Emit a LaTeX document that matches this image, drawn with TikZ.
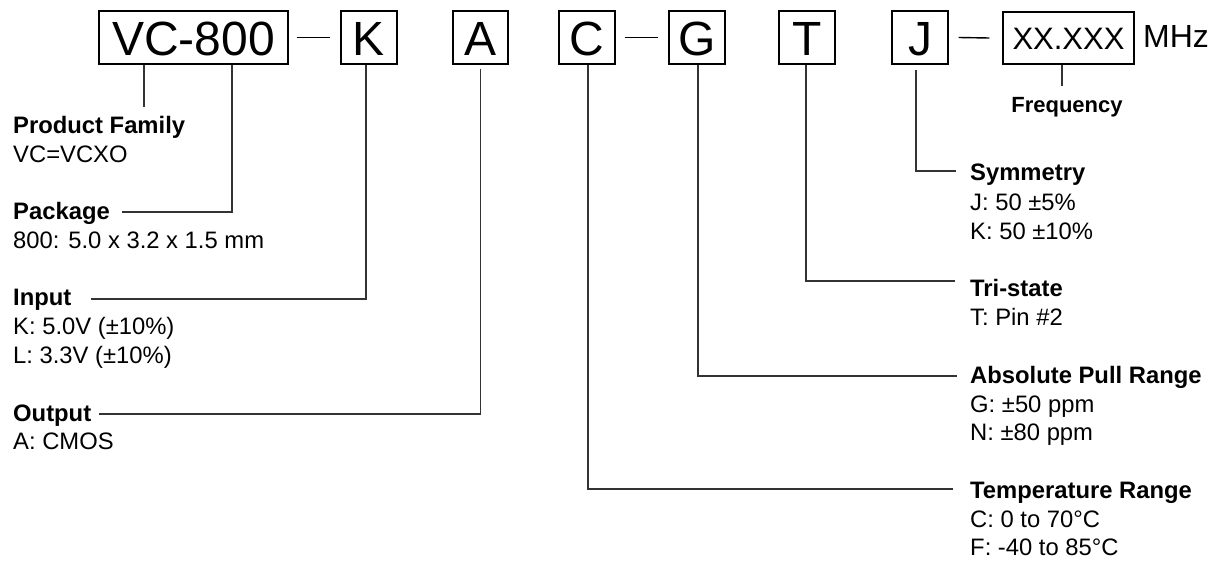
\documentclass[tikz,border=0pt]{standalone}
\usepackage{fontspec}
\setmainfont{Liberation Sans}
\begin{document}
\begin{tikzpicture}[x=1pt,y=-1pt,
  box/.style={draw=black,line width=1.3pt,inner sep=0pt,minimum height=53pt,
    text height=35pt,text depth=0pt,font=\fontsize{48}{48}\selectfont},
  lbl/.style={anchor=base west,inner sep=0pt,font=\fontsize{23.8}{29}\selectfont},
  head/.style={anchor=base west,inner sep=0pt,font=\fontsize{23.8}{29}\selectfont\bfseries},
  conn/.style={draw=black!80,line width=1.2pt},
  dashline/.style={draw=black,line width=1.4pt}]
\useasboundingbox (0,0) rectangle (1224,560);

% code boxes
\node[box,minimum width=189pt] (vc) at (193.5,37.5) {VC-800};
\node[box,minimum width=56pt] (k) at (369,37.5) {K};
\node[box,minimum width=55pt] (a) at (480.5,37.5) {A};
\node[box,minimum width=56pt] (c) at (587,37.5) {C};
\node[box,minimum width=56pt] (g) at (697,37.5) {G};
\node[box,minimum width=56pt] (t) at (807,37.5) {T};
\node[box,minimum width=56pt] (j) at (920,37.5) {J};
\node[box,minimum width=131pt,minimum height=52pt,text height=22.5pt,
  font=\fontsize{31}{31}\selectfont] (xx) at (1068.5,38) {XX.XXX};
\node[anchor=base west,inner sep=0pt,font=\fontsize{32}{32}\selectfont] (mhz) at (1143,47.5) {MHz};

% dashes
\draw[dashline] ([xshift=8pt]vc.east) -- ([xshift=-10pt]k.west);
\draw[dashline] ([xshift=9pt]c.east) -- ([xshift=-10pt]g.west);
\draw[dashline] ([xshift=10pt]j.east) -- ([xshift=-13pt]xx.west);

% left labels
\node[head] (pf) at (13,133) {Product Family};
\node[lbl] (pf1) at (13,162) {VC=VCXO};
\node[head] (pk) at (13,219) {Package};
\node[lbl] (pk1) at (13,248) {800: 5.0 x 3.2 x 1.5 mm};
\node[head] (in) at (13,305) {Input};
\node[lbl] (in1) at (13,334.5) {K: 5.0V (±10\%)};
\node[lbl] (in2) at (13,363) {L: 3.3V (±10\%)};
\node[head] (out) at (13,421) {Output};
\node[lbl] (out1) at (13,449) {A: CMOS};

% right labels
\node[head] (sym) at (970,180) {Symmetry};
\node[lbl] (sym1) at (970,210) {J: 50 ±5\%};
\node[lbl] (sym2) at (970,239) {K: 50 ±10\%};
\node[head] (tri) at (970,296) {Tri-state};
\node[lbl] (tri1) at (970,325) {T: Pin \#2};
\node[head] (apr) at (970,383) {Absolute Pull Range};
\node[lbl] (apr1) at (970,412) {G: ±50 ppm};
\node[lbl] (apr2) at (970,440) {N: ±80 ppm};
\node[head] (tmp) at (970,498) {Temperature Range};
\node[lbl] (tmp1) at (970,527) {C: 0 to 70°C};
\node[lbl] (tmp2) at (970,555) {F: -40 to 85°C};
\node[anchor=base,inner sep=0pt,font=\fontsize{22}{22}\selectfont\bfseries] (freq) at (1067,112) {Frequency};

% connector ends
\coordinate (pfend) at (144,107);
\coordinate (pkend) at (122,212);
\coordinate (inend) at (91,299);
\coordinate (outend) at (99,414);
\coordinate (symend) at (956,171);
\coordinate (triend) at (955,281);
\coordinate (aprend) at (957,376);
\coordinate (tmpend) at (953,489);
\coordinate (freqtick) at (1062,86);

% connectors
\draw[conn] (vc.south -| pfend) -- (pfend);
\draw[conn] ([xshift=38.5pt]vc.south) |- (pkend);
\draw[conn] ([xshift=-3pt]k.south) |- (inend);
\draw[conn] ([yshift=-4pt]a.south) |- (outend);
\draw[conn] ([xshift=1pt]c.south) |- (tmpend);
\draw[conn] ([xshift=1pt]g.south) |- (aprend);
\draw[conn] ([xshift=-1pt]t.south) |- (triend);
\draw[conn] ([xshift=-4pt,yshift=-5pt]j.south) |- (symend);
\draw[conn] (xx.south -| freqtick) -- (freqtick);
\end{tikzpicture}
\end{document}
